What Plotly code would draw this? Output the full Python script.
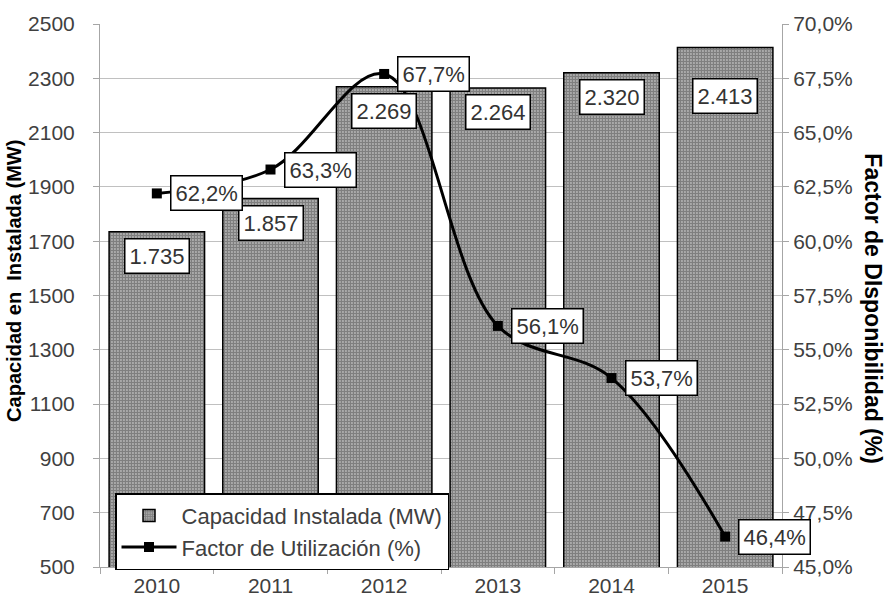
import plotly.graph_objects as go

years = ['2010', '2011', '2012', '2013', '2014', '2015']
capacidad = [1735, 1857, 2269, 2264, 2320, 2413]
factor = [62.2, 63.3, 67.7, 56.1, 53.7, 46.4]

left_ticks = [500, 700, 900, 1100, 1300, 1500, 1700, 1900, 2100, 2300, 2500]
right_ticks = [45.0, 47.5, 50.0, 52.5, 55.0, 57.5, 60.0, 62.5, 65.0, 67.5, 70.0]

FONT = 'Liberation Sans, Arial, sans-serif'
GREY = '#404040'


def fmt_mw(v):
    return f'{v:,}'.replace(',', '.')


def fmt_pct(v):
    return f'{v:.1f}%'.replace('.', ',')


fig = go.Figure()

fig.add_trace(go.Bar(
    x=years, y=capacidad, name='Capacidad Instalada (MW)',
    marker=dict(color='white', line=dict(color='black', width=1.5),
                pattern=dict(shape='.', fgcolor='black', bgcolor='white',
                             size=3, solidity=0.8)),
    yaxis='y'))

fig.add_trace(go.Scatter(
    x=years, y=factor, name='Factor de Utilización (%)',
    mode='lines+markers', line=dict(color='black', width=3, shape='spline', smoothing=1),
    marker=dict(symbol='square', size=10, color='black'),
    yaxis='y2'))

# boxed data labels (category axis -> annotation x is the category index)
annots = []
for i, v in enumerate(capacidad):
    shift = -48 if i == len(years) - 1 else -24  # last label sits lower in the original
    annots.append(dict(x=i, y=v, yref='y', text=fmt_mw(v), showarrow=False,
                       yshift=shift, font=dict(size=22, color='#333333', family=FONT),
                       bgcolor='white', bordercolor='black', borderwidth=1.5, borderpad=4))
for i, v in enumerate(factor):
    annots.append(dict(x=i, y=v, yref='y2', text=fmt_pct(v), showarrow=False,
                       xanchor='left', xshift=13,
                       font=dict(size=22, color='#333333', family=FONT),
                       bgcolor='white', bordercolor='black', borderwidth=1.5, borderpad=4))

# axis titles
annots.append(dict(x=-0.126, y=0.527, xref='paper', yref='paper', showarrow=False,
                   xanchor='center', yanchor='middle',
                   text='<b>Capacidad en\u00a0 Instalada (MW)</b>', textangle=-90,
                   font=dict(size=20, color='black', family=FONT)))
annots.append(dict(x=1.133, y=0.475, xref='paper', yref='paper', showarrow=False,
                   xanchor='center', yanchor='middle',
                   text='<b>Factor de DIsponibilidad (%)</b>', textangle=90,
                   font=dict(size=23, color='black', family=FONT)))

fig.update_layout(
    width=887, height=603,
    margin=dict(l=100, r=105, t=24, b=36),
    paper_bgcolor='white', plot_bgcolor='white',
    font=dict(family=FONT, size=21, color=GREY),
    bargap=0.16,
    showlegend=True,
    legend=dict(x=0.022, y=0.136, xanchor='left', yanchor='top',
                bgcolor='white', bordercolor='black', borderwidth=1.5,
                font=dict(size=22, color=GREY), tracegroupgap=0,
                itemwidth=55),
    xaxis=dict(type='category', range=[-0.5, len(years) - 0.5], showgrid=False,
               showline=True, linecolor='#a6a6a6', linewidth=1, ticks='outside',
               ticklen=6, tickcolor='#a6a6a6', tickson='boundaries', automargin=False,
               tickfont=dict(size=21, color=GREY)),
    yaxis=dict(range=[500, 2500], tickvals=left_ticks, showgrid=True,
               gridcolor='#c0c0c0', gridwidth=1, showline=True, linecolor='#a6a6a6',
               ticks='outside', ticklen=6, tickcolor='#a6a6a6', ticklabelstandoff=14,
               automargin=False, tickfont=dict(size=21, color=GREY), zeroline=False),
    yaxis2=dict(range=[45, 70], tickvals=right_ticks,
                ticktext=[fmt_pct(t) for t in right_ticks], overlaying='y', side='right',
                showgrid=False, showline=True, linecolor='#a6a6a6',
                ticks='outside', ticklen=6, tickcolor='#a6a6a6', automargin=False,
                tickfont=dict(size=21, color=GREY), zeroline=False),
    annotations=annots,
)

# drop the default page margin so the figure sits at the window's corner
fig.write_html('out.html', config={'displayModeBar': False},
               post_script="document.body.style.margin='0';")
